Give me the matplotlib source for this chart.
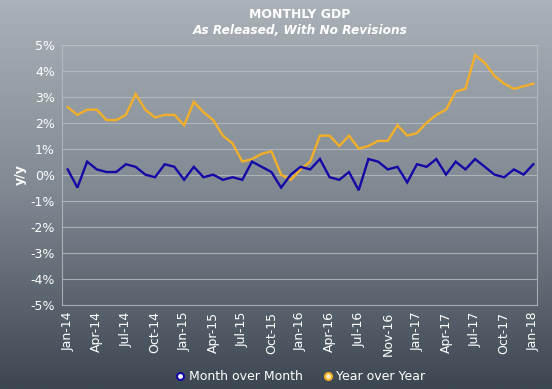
import numpy as np
import matplotlib
matplotlib.use("Agg")
import matplotlib.pyplot as plt
from matplotlib.colors import LinearSegmentedColormap

# monthly values, Jan-14 .. Jan-18 (49 months)
mom = [0.2, -0.5, 0.5, 0.2, 0.1, 0.1, 0.4, 0.3, 0.0, -0.1, 0.4, 0.3,
       -0.2, 0.3, -0.1, 0.0, -0.2, -0.1, -0.2, 0.5, 0.3, 0.1, -0.5, 0.0,
       0.3, 0.2, 0.6, -0.1, -0.2, 0.1, -0.6, 0.6, 0.5, 0.2, 0.3, -0.3,
       0.4, 0.3, 0.6, 0.0, 0.5, 0.2, 0.6, 0.3, 0.0, -0.1, 0.2, 0.0,
       0.4]
yoy = [2.6, 2.3, 2.5, 2.5, 2.1, 2.1, 2.3, 3.1, 2.5, 2.2, 2.3, 2.3,
       1.9, 2.8, 2.4, 2.1, 1.5, 1.2, 0.5, 0.6, 0.8, 0.9, 0.0, -0.2,
       0.2, 0.5, 1.5, 1.5, 1.1, 1.5, 1.0, 1.1, 1.3, 1.3, 1.9, 1.5,
       1.6, 2.0, 2.3, 2.5, 3.2, 3.3, 4.6, 4.3, 3.8, 3.5, 3.3, 3.4,
       3.5]
tick_labels = ["Jan-14", "Apr-14", "Jul-14", "Oct-14", "Jan-15", "Apr-15",
               "Jul-15", "Oct-15", "Jan-16", "Apr-16", "Jul-16", "Nov-16",
               "Jan-17", "Apr-17", "Jul-17", "Oct-17", "Jan-18"]

blue = "#1408a6"
gold = "#f2b02a"
grid_col = "#b9bec4"

fig = plt.figure(figsize=(5.52, 3.89), dpi=100)

# background gradient
bg = fig.add_axes([0, 0, 1, 1], zorder=-10)
cmap = LinearSegmentedColormap.from_list("bg", ["#abb1b8", "#7f8891", "#3c4751"])
bg.imshow(np.linspace(0, 1, 256).reshape(-1, 1), aspect="auto", cmap=cmap,
          extent=[0, 1, 0, 1])
bg.axis("off")

ax = fig.add_axes([0.1123, 0.2172, 0.8605, 0.6678])
ax.patch.set_alpha(0)

x = np.arange(len(mom))
ax.plot(x, yoy, color=gold, lw=1.7, solid_joinstyle="miter", zorder=3)
ax.plot(x, mom, color=blue, lw=1.7, solid_joinstyle="miter", zorder=4)

ax.set_xlim(-0.59, 48.38)
ax.set_ylim(-5, 5)
ax.set_yticks(np.arange(-5, 6, 1))
ax.set_yticklabels([f"{v}%" for v in range(-5, 6)])
ax.set_xticks(np.arange(0, 49, 3))
ax.set_xticklabels(tick_labels, rotation=90)
ax.tick_params(colors="white", labelsize=9, length=0, pad=5)
ax.grid(axis="y", color=grid_col, lw=0.8, alpha=0.8)
for s in ax.spines.values():
    s.set_color(grid_col)
    s.set_alpha(0.8)
    s.set_linewidth(0.8)

ax.set_ylabel("y/y", color="white", fontsize=9, fontweight="bold", labelpad=3)

fig.text(0.543, 0.962, "MONTHLY GDP", color="white", fontsize=9,
         fontweight="bold", ha="center", va="center")
fig.text(0.543, 0.922, "As Released, With No Revisions", color="white",
         fontsize=8.7, fontweight="bold", style="italic", ha="center", va="center")

h1, = ax.plot([], [], ls="none", marker="o", ms=5, mfc="white", mec=blue, mew=1.5)
h2, = ax.plot([], [], ls="none", marker="o", ms=5, mfc="#fff0c0", mec=gold, mew=1.5)
fig.legend([h1, h2], ["Month over Month", "Year over Year"], loc="center",
           bbox_to_anchor=(0.543, 0.031), ncol=2, frameon=False, fontsize=9,
           labelcolor="white", handletextpad=0.2, columnspacing=1.5,
           handlelength=1.0)

fig.savefig("out.png", dpi=100)
